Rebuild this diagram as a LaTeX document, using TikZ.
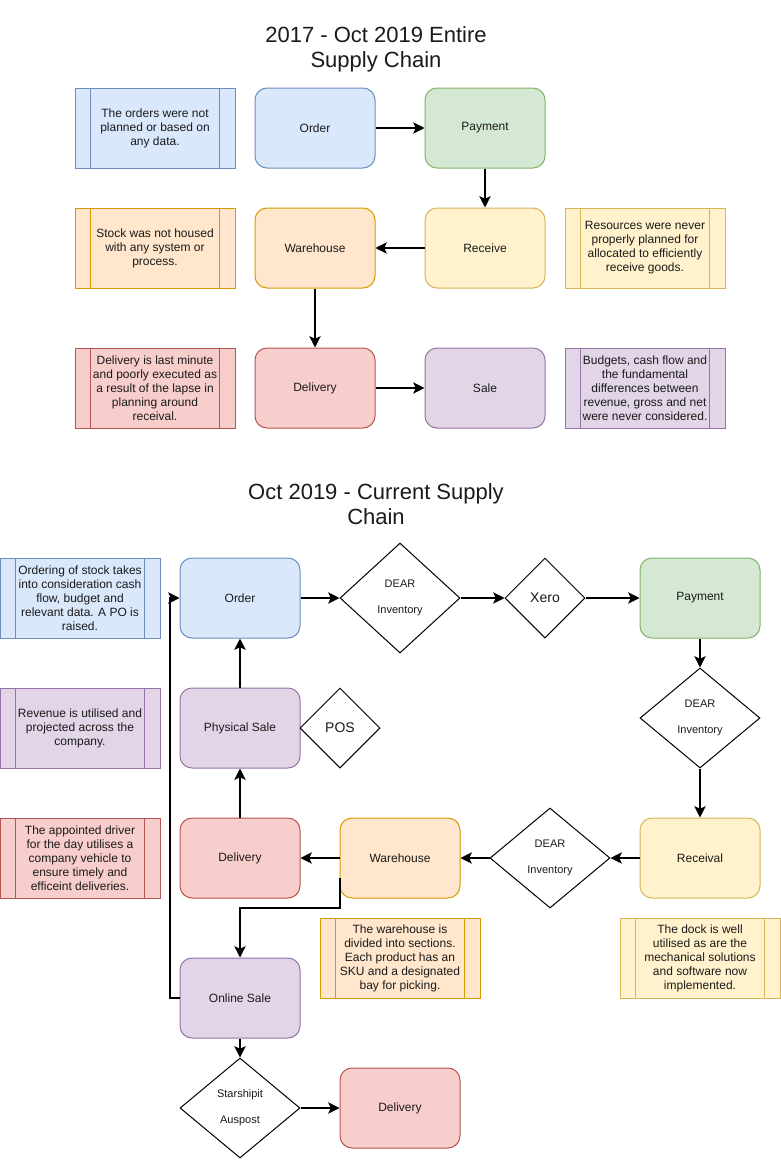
\documentclass[tikz,border=0pt]{standalone}
\usepackage{fontspec}
\setmainfont{Liberation Sans}
\usetikzlibrary{shapes.geometric,arrows.meta}
\definecolor{bfill}{HTML}{DAE8FC}\definecolor{bdraw}{HTML}{6C8EBF}
\definecolor{gfill}{HTML}{D5E8D4}\definecolor{gdraw}{HTML}{82B366}
\definecolor{ofill}{HTML}{FFE6CC}\definecolor{odraw}{HTML}{D79B00}
\definecolor{yfill}{HTML}{FFF2CC}\definecolor{ydraw}{HTML}{D6B656}
\definecolor{rfill}{HTML}{F8CECC}\definecolor{rdraw}{HTML}{B85450}
\definecolor{pfill}{HTML}{E1D5E7}\definecolor{pdraw}{HTML}{9673A6}
\definecolor{txt}{HTML}{1A1A1A}
\newcommand\sidelines[2]{\draw[#2,line width=0.75pt] ([xshift=12pt]#1.north west) -- ([xshift=12pt]#1.south west) ([xshift=-12pt]#1.north east) -- ([xshift=-12pt]#1.south east);}
\begin{document}
\begin{tikzpicture}[x=0.75pt,y=-0.75pt,
  every node/.style={text=txt},
  box/.style={rectangle, rounded corners=9pt, minimum width=90pt, minimum height=60pt, inner sep=0pt, line width=0.75pt, font=\fontsize{9}{10.5}\selectfont, align=center},
  note/.style={rectangle, minimum width=120pt, minimum height=60pt, inner sep=0pt, line width=0.75pt, font=\fontsize{9}{10.5}\selectfont, align=center},
  dia/.style={diamond, draw=black, fill=white, inner sep=0pt, line width=0.75pt, align=center},
  ttl/.style={font=\fontsize{16.5}{18.75}\selectfont, align=center},
  sblue/.style={fill=bfill, draw=bdraw},
  sgreen/.style={fill=gfill, draw=gdraw},
  sorange/.style={fill=ofill, draw=odraw},
  syellow/.style={fill=yfill, draw=ydraw},
  sred/.style={fill=rfill, draw=rdraw},
  spurple/.style={fill=pfill, draw=pdraw},
  conn/.style={line width=1.5pt, -{Stealth[length=8.5pt,width=8.5pt,inset=2pt]}}
]
\useasboundingbox[fill=white] (0,0) rectangle (781,1171);

% ---------- top section ----------
\node[ttl] (t1) at (376,49) {2017 - Oct 2019 Entire\\Supply Chain};

\node[note,sblue] (n1) at (155,128) {The orders were not\\planned or based on\\any data.};
\sidelines{n1}{bdraw}
\node[box,sblue] (order1) at (315,128) {Order};
\node[box,sgreen] (pay1) at (485,128) {Payment};
\node[note,sorange] (n2) at (155,248) {Stock was not housed\\with any system or\\process.};
\sidelines{n2}{odraw}
\node[box,sorange] (wh1) at (315,248) {Warehouse};
\node[box,syellow] (rec1) at (485,248) {Receive};
\node[note,syellow] (n3) at (645,248) {Resources were never\\properly planned for\\allocated to efficiently\\receive goods.};
\sidelines{n3}{ydraw}
\node[note,sred] (n4) at (155,388) {Delivery is last minute\\and poorly executed as\\a result of the lapse in\\planning around\\receival.};
\sidelines{n4}{rdraw}
\node[box,sred] (del1) at (315,388) {Delivery};
\node[box,spurple] (sale1) at (485,388) {Sale};
\node[note,spurple] (n5) at (645,388) {Budgets, cash flow and\\the fundamental\\differences between\\revenue, gross and net\\were never considered.};
\sidelines{n5}{pdraw}

\draw[conn] (order1) -- (pay1);
\draw[conn] (pay1) -- (rec1);
\draw[conn] (rec1) -- (wh1);
\draw[conn] (wh1) -- (del1);
\draw[conn] (del1) -- (sale1);

% ---------- bottom section ----------
\node[ttl] (t2) at (376,504) {Oct 2019 - Current Supply\\Chain};

\node[note,sblue] (nb1) at (80,598) {Ordering of stock takes\\into consideration cash\\flow, budget and\\relevant data. A PO is\\raised.};
\sidelines{nb1}{bdraw}
\node[box,sblue] (ord) at (240,598) {Order};
\node[dia,minimum width=90pt,minimum height=82.5pt,font=\fontsize{8.25}{19.5}\selectfont] (d1) at (400,598) {DEAR\\Inventory};
\node[dia,minimum width=60pt,minimum height=60pt,font=\fontsize{10.5}{12}\selectfont] (xero) at (545,598) {Xero};
\node[box,sgreen] (pay) at (700,598) {Payment};
\node[dia,minimum width=90pt,minimum height=75pt,font=\fontsize{8.25}{19.5}\selectfont] (d2) at (700,718) {DEAR\\Inventory};
\node[box,syellow] (rec) at (700,858) {Receival};
\node[dia,minimum width=90pt,minimum height=75pt,font=\fontsize{8.25}{19.5}\selectfont] (d3) at (550,858) {DEAR\\Inventory};
\node[box,sorange] (wh) at (400,858) {Warehouse};
\node[box,sred] (del) at (240,858) {Delivery};
\node[box,spurple] (ps) at (240,728) {Physical Sale};
\node[dia,minimum width=60pt,minimum height=60pt,font=\fontsize{10.5}{12}\selectfont] (pos) at (340,728) {POS};
\node[note,spurple] (nb2) at (80,728) {Revenue is utilised and\\projected across the\\company.};
\sidelines{nb2}{pdraw}
\node[note,sred] (nb3) at (80,858) {The appointed driver\\for the day utilises a\\company vehicle to\\ensure timely and\\efficeint deliveries.};
\sidelines{nb3}{rdraw}
\node[box,spurple] (os) at (240,998) {Online Sale};
\node[note,sorange] (nb4) at (400,958) {The warehouse is\\divided into sections.\\Each product has an\\SKU and a designated\\bay for picking.};
\sidelines{nb4}{odraw}
\node[note,syellow] (nb5) at (700,958) {The dock is well\\utilised as are the\\mechanical solutions\\and software now\\implemented.};
\sidelines{nb5}{ydraw}
\node[dia,minimum width=90pt,minimum height=75pt,font=\fontsize{8.25}{19.5}\selectfont] (star) at (240,1108) {Starshipit\\Auspost};
\node[box,sred] (del2) at (400,1108) {Delivery};

\draw[conn] (ord) -- (d1);
\draw[conn] (d1) -- (xero);
\draw[conn] (xero) -- (pay);
\draw[conn] (pay) -- (d2);
\draw[conn] (d2) -- (rec);
\draw[conn] (rec) -- (d3);
\draw[conn] (d3) -- (wh);
\draw[conn] (wh) -- (del);
\draw[conn] (del) -- (ps);
\draw[conn] (ps) -- (ord);
\draw[conn] ([yshift=-15pt]wh.west) -- ++(0,30) -| (os.north);
\draw[conn] (os.west) -- ++(-10,0) |- (ord.west);
\draw[conn] (os) -- (star);
\draw[conn] (star) -- (del2);
\end{tikzpicture}
\end{document}
